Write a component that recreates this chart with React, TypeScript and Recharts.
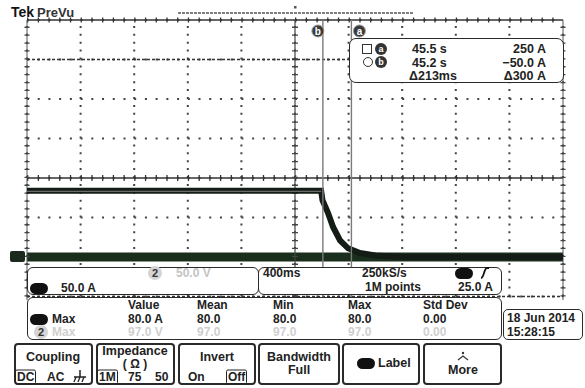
import React from 'react';
import { ComposedChart, Line, XAxis, YAxis, ReferenceLine } from 'recharts';

const FONT = '"Liberation Sans", Arial, sans-serif';

// axes (time in ms, current in A)
const timeGridMs = [0, 400, 800, 1200, 1600, 2000, 2400, 2800, 3200, 3600, 4000];
const ampGrid = [-100, -50, 0, 50, 100, 150, 200, 250, 300];
const centerTimeMs = 2000;
const centerAmp = 100;

// channel 1 (current) trace
const ch1TimeMs = [0, 2195, 2205, 2246, 2284, 2336, 2396, 2485, 2600, 2800, 4000];
const ch1Amps = [84, 84, 72, 56, 38, 21, 11, 5, 2, 0, 0];
// lighter ghost line inside the ch1 band
const ch1GhostTimeMs = [0, 2195];
const ch1GhostAmps = [83, 83];
// channel 2 trace (near ground)
const ch2TimeMs = [0, 4000];
const ch2Level = [0, 0];

// cursors
const cursorAms = 2421;
const cursorBms = 2208;
const cursorAamp = 250;
const cursorBamp = -50;

// readouts
const cursorRows = [
  { t: '45.5 s', v: '250 A' },
  { t: '45.2 s', v: '\u221250.0 A' },
  { t: '\u0394213ms', v: '\u0394300 A' },
];
const measHeaders = ['Value', 'Mean', 'Min', 'Max', 'Std Dev'];
const measCh1 = ['80.0 A', '80.0', '80.0', '80.0', '0.00'];
const measCh2 = ['97.0 V', '97.0', '97.0', '97.0', '0.00'];

const ch1Data = ch1TimeMs.map((t, i) => ({ t, v: ch1Amps[i] }));
const ghostData = ch1GhostTimeMs.map((t, i) => ({ t, v: ch1GhostAmps[i] }));
const ch2Data = ch2TimeMs.map((t, i) => ({ t, v: ch2Level[i] }));

const Txt = ({ x, y, c = '#222', s = 12, w = 700, a = 'left', children }: any) => (
  <div
    style={{
      position: 'absolute', left: x, top: y,
      transform: a === 'center' ? 'translate(-50%,-50%)' : a === 'right' ? 'translate(-100%,-50%)' : 'translateY(-50%)',
      fontSize: s, fontWeight: w, color: c, lineHeight: 1, whiteSpace: 'nowrap', fontFamily: FONT,
    }}
  >
    {children}
  </div>
);

const Box = ({ x, y, w, h, r = 6, bw = 1.5, children }: any) => (
  <div style={{ position: 'absolute', left: x, top: y, width: w, height: h, boxSizing: 'border-box', border: `${bw}px solid #2a2a2a`, borderRadius: r, background: '#fff' }}>
    {children}
  </div>
);

const Oval = ({ x, y }: any) => (
  <div style={{ position: 'absolute', left: x, top: y - 5.5, width: 18, height: 11, borderRadius: 6, background: '#111' }} />
);

const Badge2 = ({ cx, cy, c = '#333' }: any) => (
  <div style={{ position: 'absolute', left: cx - 7, top: cy - 7, width: 14, height: 14, borderRadius: 7, background: '#d4d4d4', color: c, fontFamily: FONT, fontWeight: 700, fontSize: 11, lineHeight: '14px', textAlign: 'center' }}>2</div>
);

const Boxed = ({ x, y, children }: any) => (
  <div style={{ position: 'absolute', left: x, top: y, transform: 'translateY(-50%)', border: '1.5px solid #222', borderRadius: 2, padding: '0 1px', fontFamily: FONT, fontWeight: 700, fontSize: 12, lineHeight: '13px', color: '#222' }}>{children}</div>
);

const CursorTag = (props: any) => {
  const vb = props.viewBox || {};
  const cx = (vb.x || 0) + props.shift;
  const cy = (vb.y || 0) + 11;
  return (
    <g>
      <circle cx={cx} cy={cy} r={6} fill="#3a3a3a" stroke="#999" strokeWidth={1} />
      <text x={cx} y={cy + 3.5} textAnchor="middle" fontSize={10} fontWeight={700} fill="#fff" fontFamily={FONT}>{props.letter}</text>
    </g>
  );
};

const LetterDot = ({ cx, cy, letter }: any) => (
  <div style={{ position: 'absolute', left: cx - 6, top: cy - 6, width: 12, height: 12, borderRadius: 6, background: '#333', color: '#fff', fontFamily: FONT, fontSize: 9, fontWeight: 700, lineHeight: '12px', textAlign: 'center' }}>{letter}</div>
);

export default function App() {
  return (
    <div style={{ position: 'fixed', left: 0, top: 0, width: 585, height: 388, background: '#fff' }}>
      {/* background chart: dotted graticule and channel 2 trace */}
      <ComposedChart width={585} height={388} margin={{ top: 20, right: 22, bottom: 52, left: 27 }}>
        <XAxis type="number" dataKey="t" domain={[0, 4000]} ticks={timeGridMs} hide />
        <YAxis type="number" dataKey="v" domain={[-100, 300]} ticks={ampGrid} hide />
        {timeGridMs.map((t) => (
          <ReferenceLine key={'gx' + t} x={t} stroke="#444" strokeWidth={2} strokeDasharray="2 5.9" />
        ))}
        {ampGrid.map((a) => (
          <ReferenceLine key={'gy' + a} y={a} stroke="#444" strokeWidth={2} strokeDasharray="2 8.72" />
        ))}
        <Line data={ch2Data} dataKey="v" stroke="#1a2e1c" strokeWidth={9} dot={false} isAnimationActive={false} />
      </ComposedChart>

      {/* foreground chart: frame, cursors, channel 1 trace */}
      <div style={{ position: 'absolute', left: 0, top: 0 }}>
        <ComposedChart width={585} height={388} margin={{ top: 20, right: 22, bottom: 52, left: 27 }}>
          <XAxis type="number" dataKey="t" domain={[0, 4000]} ticks={timeGridMs} hide />
          <YAxis type="number" dataKey="v" domain={[-100, 300]} ticks={ampGrid} hide />
          <ReferenceLine y={300} stroke="#333" strokeWidth={1.3} />
          <ReferenceLine y={300} stroke="#333" strokeWidth={5} strokeDasharray="1.3 9.42" />
          <ReferenceLine y={centerAmp} stroke="#333" strokeWidth={1.3} />
          <ReferenceLine y={centerAmp} stroke="#333" strokeWidth={6} strokeDasharray="1.3 9.42" />
          <ReferenceLine x={0} stroke="#555" strokeWidth={1} />
          <ReferenceLine x={0} stroke="#444" strokeWidth={5} strokeDasharray="1.3 6.6" />
          <ReferenceLine x={4000} stroke="#555" strokeWidth={1} />
          <ReferenceLine x={4000} stroke="#444" strokeWidth={5} strokeDasharray="1.3 6.6" />
          <ReferenceLine x={centerTimeMs} stroke="#444" strokeWidth={1.2} />
          <ReferenceLine x={centerTimeMs} stroke="#444" strokeWidth={6} strokeDasharray="1.3 6.6" />
          <ReferenceLine y={cursorAamp} stroke="#333" strokeWidth={1.5} strokeDasharray="3 2" />
          <ReferenceLine y={cursorBamp} stroke="#333" strokeWidth={1.5} strokeDasharray="3 2" />
          <Line data={ch1Data} dataKey="v" type="linear" stroke="#141c16" strokeWidth={6} dot={false} isAnimationActive={false} />
          <Line data={ghostData} dataKey="v" type="linear" stroke="#6a6a6a" strokeWidth={1.2} dot={false} isAnimationActive={false} />
          <ReferenceLine x={cursorBms} stroke="#7a7a7a" strokeWidth={1.4} label={<CursorTag letter="b" shift={-5} />} />
          <ReferenceLine x={cursorAms} stroke="#7a7a7a" strokeWidth={1.4} label={<CursorTag letter="a" shift={8} />} />
        </ComposedChart>
      </div>

      {/* white cover below the visible graticule */}
      <div style={{ position: 'absolute', left: 0, top: 300, width: 585, height: 88, background: '#fff' }} />

      {/* header */}
      <Txt x={11} y={12} s={14} c="#111">Tek</Txt>
      <Txt x={37} y={12} s={13} c="#333">PreVu</Txt>
      <svg style={{ position: 'absolute', left: 0, top: 0 }} width={585} height={20}>
        <line x1={178} y1={13} x2={413} y2={13} stroke="#555" strokeWidth={1.6} strokeDasharray="3 1" />
        <rect x={294} y={6} width={2.5} height={2.5} fill="#555" />
      </svg>

      {/* ground marker */}
      <div style={{ position: 'absolute', left: 10, top: 251, width: 15, height: 11, background: '#1c2a1e', borderRadius: 2 }} />

      {/* cursor readout */}
      <Box x={349} y={38} w={215} h={45} r={7}>
        <div style={{ position: 'absolute', left: 12, top: 5, width: 10, height: 10, border: '1.3px solid #333', boxSizing: 'border-box' }} />
        <div style={{ position: 'absolute', left: 13, top: 18, width: 10, height: 10, border: '1.3px solid #333', borderRadius: 6, boxSizing: 'border-box' }} />
      </Box>
      <LetterDot cx={381} cy={49} letter="a" />
      <LetterDot cx={381} cy={62} letter="b" />
      {cursorRows.map((r, i) => (
        <React.Fragment key={'cr' + i}>
          <Txt x={i === 2 ? 409 : 412} y={49 + i * 13.5} s={12.5}>{r.t}</Txt>
          <Txt x={546} y={49 + i * 13.5} s={12.5} a="right">{r.v}</Txt>
        </React.Fragment>
      ))}

      {/* channel / timebase boxes */}
      <Box x={27} y={267} w={232} h={28} r={6} />
      <Badge2 cx={155} cy={273} />
      <Txt x={176} y={273} c="#c4c4c4">50.0 V</Txt>
      <Oval x={30} y={288} />
      <Txt x={61} y={288}>50.0 A</Txt>

      <Box x={258} y={267} w={244} h={28} r={6} />
      <Txt x={263} y={273}>400ms</Txt>
      <Txt x={362} y={273}>250kS/s</Txt>
      <Oval x={455} y={273} />
      <svg style={{ position: 'absolute', left: 479, top: 266 }} width={12} height={14}>
        <path d="M2,12 C5,12 5,2 8,2 L10,2" stroke="#111" strokeWidth={1.8} fill="none" />
      </svg>
      <Txt x={365} y={287}>1M points</Txt>
      <Txt x={458} y={287}>25.0 A</Txt>

      {/* measurement box */}
      <Box x={27} y={297} w={475} h={43} r={6} />
      {measHeaders.map((h, i) => (
        <Txt key={'mh' + i} x={[128, 197, 273, 348, 423][i]} y={305}>{h}</Txt>
      ))}
      <Oval x={30} y={319} />
      <Txt x={52} y={319}>Max</Txt>
      {measCh1.map((v, i) => (
        <Txt key={'m1' + i} x={[128, 197, 273, 348, 423][i]} y={319}>{v}</Txt>
      ))}
      <Badge2 cx={41} cy={332} />
      <Txt x={52} y={332} c="#cfcfcf">Max</Txt>
      {measCh2.map((v, i) => (
        <Txt key={'m2' + i} x={[128, 197, 273, 348, 423][i]} y={332} c="#cfcfcf">{v}</Txt>
      ))}

      {/* date */}
      <Box x={503} y={309} w={80} h={31} r={5} />
      <Txt x={507} y={318}>18 Jun 2014</Txt>
      <Txt x={507} y={332}>15:28:15</Txt>

      {/* soft-key buttons */}
      <Box x={14} y={343} w={79} h={42} r={4} bw={2} />
      <Txt x={53} y={357} a="center" s={12.5}>Coupling</Txt>
      <Boxed x={15} y={377}>DC</Boxed>
      <Txt x={47} y={377}>AC</Txt>
      <svg style={{ position: 'absolute', left: 73, top: 369 }} width={14} height={14}>
        <line x1={7} y1={1} x2={7} y2={8} stroke="#222" strokeWidth={1.5} />
        <line x1={1} y1={8} x2={13} y2={8} stroke="#222" strokeWidth={1.5} />
        <line x1={3} y1={8} x2={1} y2={13} stroke="#222" strokeWidth={1.3} />
        <line x1={7} y1={8} x2={5} y2={13} stroke="#222" strokeWidth={1.3} />
        <line x1={11} y1={8} x2={9} y2={13} stroke="#222" strokeWidth={1.3} />
      </svg>

      <Box x={96} y={343} w={79} h={42} r={4} bw={2} />
      <Txt x={135} y={351} a="center" s={12.5}>Impedance</Txt>
      <Txt x={135} y={364} a="center" s={12}>( Ω )</Txt>
      <Boxed x={97} y={377}>1M</Boxed>
      <Txt x={128} y={377}>75</Txt>
      <Txt x={155} y={377}>50</Txt>

      <Box x={178} y={343} w={78} h={42} r={4} bw={2} />
      <Txt x={217} y={357} a="center" s={12.5}>Invert</Txt>
      <Txt x={188} y={377}>On</Txt>
      <Boxed x={226} y={377}>Off</Boxed>

      <Box x={258} y={343} w={82} h={42} r={4} bw={2} />
      <Txt x={299} y={357} a="center" s={12.5}>Bandwidth</Txt>
      <Txt x={299} y={370} a="center" s={12.5}>Full</Txt>

      <Box x={342} y={343} w={78} h={42} r={4} bw={2} />
      <Oval x={357} y={363} />
      <Txt x={378} y={363} s={12.5}>Label</Txt>

      <Box x={423} y={343} w={79} h={42} r={4} bw={2} />
      <svg style={{ position: 'absolute', left: 456, top: 351 }} width={14} height={10}>
        <circle cx={7} cy={2} r={1.2} fill="#333" />
        <path d="M2,9 L7,5 L12,9" stroke="#333" strokeWidth={1.2} fill="none" />
      </svg>
      <Txt x={463} y={370} a="center" s={12.5}>More</Txt>
    </div>
  );
}
